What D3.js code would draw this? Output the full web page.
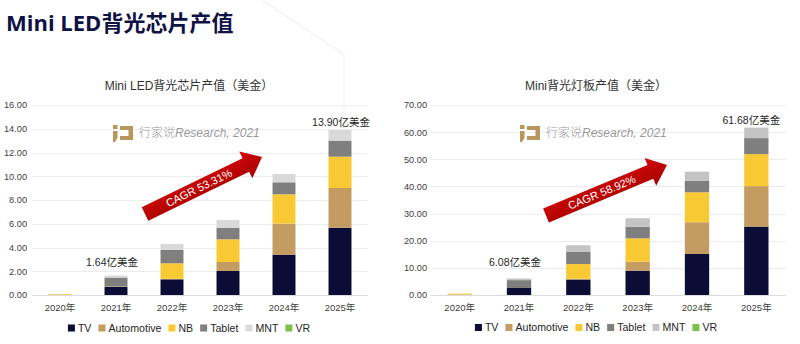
<!DOCTYPE html>
<html>
<head>
<meta charset="utf-8">
<script src="https://cdn.jsdelivr.net/npm/d3@7"></script>
<style>
  body { margin: 0; background: #fff; }
  svg { display: block; }
  text { font-family: "Liberation Sans", "Noto Sans CJK SC", sans-serif; }
</style>
</head>
<body>
<svg id="chart" width="800" height="344"></svg>
<script>
// ---- data (亿美金) ----
const years = ["2020年", "2021年", "2022年", "2023年", "2024年", "2025年"];
const seriesNames = ["TV", "Automotive", "NB", "Tablet", "MNT", "VR"];

// Mini LED 背光芯片产值
const chipTV         = [0.00, 0.70, 1.32, 2.02, 3.40, 5.67];
const chipAutomotive = [0.03, 0.01, 0.05, 0.76, 2.61, 3.34];
const chipNB         = [0.05, 0.02, 1.30, 1.91, 2.47, 2.64];
const chipTablet     = [0.00, 0.74, 1.12, 0.98, 1.01, 1.35];
const chipMNT        = [0.00, 0.17, 0.50, 0.65, 0.70, 0.90];
const chipVR         = [0.00, 0.00, 0.00, 0.00, 0.00, 0.00];
const chipTicks      = [0, 2, 4, 6, 8, 10, 12, 14, 16];
const chipLabelYears = ["2021年", "2025年"];
const chipCagr       = "CAGR 53.31%";

// Mini 背光灯板产值
const boardTV         = [0.00, 2.80, 5.70, 8.96, 15.10, 25.20];
const boardAutomotive = [0.20, 0.00, 0.30, 3.32, 11.70, 14.90];
const boardNB         = [0.30, 0.08, 5.40, 8.60, 11.05, 11.80];
const boardTablet     = [0.00, 2.60, 4.60, 4.30, 4.30, 5.90];
const boardMNT        = [0.00, 0.60, 2.30, 3.10, 3.30, 3.88];
const boardVR         = [0.00, 0.00, 0.00, 0.00, 0.00, 0.00];
const boardTicks      = [0, 10, 20, 30, 40, 50, 60, 70];
const boardLabelYears = ["2021年", "2025年"];
const boardCagr       = "CAGR 58.92%";

const svg = d3.select("#chart");

// faint slide background outline
svg.append("path")
  .attr("d", "M262,0 L344,54 L344,250")
  .attr("fill", "none").attr("stroke", "#f1f1f1").attr("stroke-width", 1.2);

// page heading
svg.append("text")
  .attr("x", 6).attr("y", 31)
  .attr("font-size", 22).attr("font-weight", 700)
  .attr("fill", "#0f1244")
  .style("font-family", "'Open Sans', 'Noto Sans CJK SC', sans-serif")
  .text("Mini LED背光芯片产值");

function drawLogo(g, x0, y0) {
  const c = "#b8965c";
  const lg = g.append("g").attr("transform", `translate(${x0},${y0})`);
  lg.append("rect").attr("x", 0).attr("y", 0).attr("width", 4.5).attr("height", 4).attr("fill", c);
  lg.append("path").attr("d", "M0,6 H4.5 V13 L2,17 H0 Z").attr("fill", c);
  lg.append("path").attr("d", "M7,1 H20 V15 H7 V11 H15.5 V5 H7 Z").attr("fill", c);
}

function drawArrow(g, x0, y0, x1, y1, label) {
  const dx = x1 - x0, dy = y1 - y0;
  const L = Math.hypot(dx, dy);
  const ang = Math.atan2(dy, dx) * 180 / Math.PI;
  const ag = g.append("g").attr("transform", `translate(${x0},${y0}) rotate(${ang})`);
  const hb = 7.5, hh = 15, hl = 18;
  ag.append("path")
    .attr("d", `M0,${-hb} L${L - hl},${-hb} L${L - hl},${-hh} L${L},0 L${L - hl},${hh} L${L - hl},${hb} L0,${hb} Z`)
    .attr("fill", "url(#arrowGrad)");
  ag.append("text")
    .attr("x", L * 0.46).attr("y", 4)
    .attr("text-anchor", "middle")
    .attr("font-size", 11).attr("fill", "#fff")
    .text(label);
}

const defs = svg.append("defs");
const grad = defs.append("linearGradient").attr("id", "arrowGrad")
  .attr("x1", 0).attr("y1", 0).attr("x2", 0).attr("y2", 1);
grad.append("stop").attr("offset", "0%").attr("stop-color", "#d00a0a");
grad.append("stop").attr("offset", "100%").attr("stop-color", "#a80000");

function drawChart(cfg) {
  const g = svg.append("g");
  const [xl, xr] = cfg.xRange;

  const x = d3.scaleBand().domain(years).range(cfg.xRange)
    .paddingInner(0.59).paddingOuter(0.295);
  const y = d3.scaleLinear().domain([0, d3.max(cfg.ticks)]).range([295, 105]);

  // gridlines
  g.append("g").selectAll("line").data(cfg.ticks).join("line")
    .attr("x1", xl).attr("x2", xr)
    .attr("y1", d => Math.round(y(d)) + 0.5).attr("y2", d => Math.round(y(d)) + 0.5)
    .attr("stroke", d => d === 0 ? "#dcdcdc" : "#ececec").attr("stroke-width", 1);

  // y axis labels
  const ya = g.append("g").attr("transform", `translate(${cfg.yLabelX},0)`)
    .call(d3.axisLeft(y).tickValues(cfg.ticks).tickFormat(d3.format(".2f")).tickSize(0).tickPadding(0));
  ya.select(".domain").remove();
  ya.selectAll("text").attr("font-size", 9.2).attr("fill", "#404040")
    .style("font-family", "'Liberation Sans', sans-serif");

  // x axis labels
  const xa = g.append("g").attr("transform", "translate(0,295)")
    .call(d3.axisBottom(x).tickSize(0).tickPadding(9));
  xa.select(".domain").remove();
  xa.selectAll("text").attr("font-size", 9.5).attr("fill", "#404040")
    .style("font-family", "'Liberation Sans', 'Noto Sans CJK SC', sans-serif");

  // stacked bars
  const rows = years.map((yr, i) => {
    const r = { year: yr };
    seriesNames.forEach((s, k) => { r[s] = cfg.series[k][i]; });
    return r;
  });
  const stacked = d3.stack().keys(seriesNames)(rows);
  g.append("g").selectAll("g").data(stacked).join("g")
    .attr("fill", (d, i) => cfg.colors[i])
    .selectAll("rect").data(d => d).join("rect")
    .attr("x", d => x(d.data.year))
    .attr("width", x.bandwidth())
    .attr("y", d => y(d[1]))
    .attr("height", d => Math.max(0, y(d[0]) - y(d[1])));

  // total labels
  const totals = new Map(rows.map(r => [r.year, d3.sum(seriesNames, s => r[s])]));
  cfg.labelYears.forEach((yr, i) => {
    g.append("text")
      .attr("x", x(yr) + x.bandwidth() / 2 + cfg.labelDx[i])
      .attr("y", y(totals.get(yr)) - cfg.labelGap[i])
      .attr("text-anchor", "middle")
      .attr("font-size", 10.5).attr("fill", "#262626")
      .text(totals.get(yr).toFixed(2) + "亿美金");
  });

  // chart title
  g.append("text")
    .attr("x", cfg.center).attr("y", 90)
    .attr("text-anchor", "middle")
    .attr("font-size", 12).attr("fill", "#333")
    .text(cfg.title);

  // watermark
  drawLogo(g, cfg.logoX, 125);
  const wm = g.append("text").attr("x", cfg.logoX + 26).attr("y", 137)
    .attr("font-size", 12).attr("fill", "#9a9a9a");
  wm.append("tspan").text("行家说").style("font-family", "'Noto Sans CJK SC', sans-serif").attr("font-weight", 300);
  wm.append("tspan").text("Research, 2021").attr("font-style", "italic");

  // growth arrow
  drawArrow(g, cfg.arrow[0], cfg.arrow[1], cfg.arrow[2], cfg.arrow[3], cfg.cagr);

  // legend
  const lg = g.append("g").attr("transform", `translate(0,${cfg.legendY})`);
  let cx = 0;
  const items = [];
  seriesNames.forEach((s, i) => {
    const it = lg.append("g");
    it.append("rect").attr("x", 0).attr("y", -3.5).attr("width", 7).attr("height", 7).attr("fill", cfg.colors[i]);
    const t = it.append("text").attr("x", 10).attr("y", 3.9).attr("font-size", 10.6).attr("fill", "#262626").text(s);
    const w = 10 + t.node().getComputedTextLength();
    items.push([it, cx]);
    cx += w + 7;
  });
  const total = cx - 7;
  const start = cfg.center - total / 2;
  items.forEach(([it, off]) => it.attr("transform", `translate(${start + off},0)`));
}

drawChart({
  title: "Mini LED背光芯片产值（美金）",
  series: [chipTV, chipAutomotive, chipNB, chipTablet, chipMNT, chipVR],
  colors: ["#0b0d36", "#c49b60", "#f9c933", "#7f7f7f", "#d9d9d9", "#7dc04a"],
  ticks: chipTicks,
  xRange: [32, 368],
  yLabelX: 27,
  center: 189,
  labelYears: chipLabelYears,
  labelDx: [-4, 1],
  labelGap: [10, 4],
  logoX: 113,
  arrow: [145, 214, 262, 157],
  cagr: chipCagr,
  legendY: 328
});

drawChart({
  title: "Mini背光灯板产值（美金）",
  series: [boardTV, boardAutomotive, boardNB, boardTablet, boardMNT, boardVR],
  colors: ["#0b0d36", "#c49b60", "#f9c933", "#7f7f7f", "#c4c4c4", "#7dc04a"],
  ticks: boardTicks,
  xRange: [430, 786],
  yLabelX: 427,
  center: 596,
  labelYears: boardLabelYears,
  labelDx: [-4, -5],
  labelGap: [12, 4],
  logoX: 520,
  arrow: [546, 215.5, 667, 165],
  cagr: boardCagr,
  legendY: 327.5
});
</script>
</body>
</html>
